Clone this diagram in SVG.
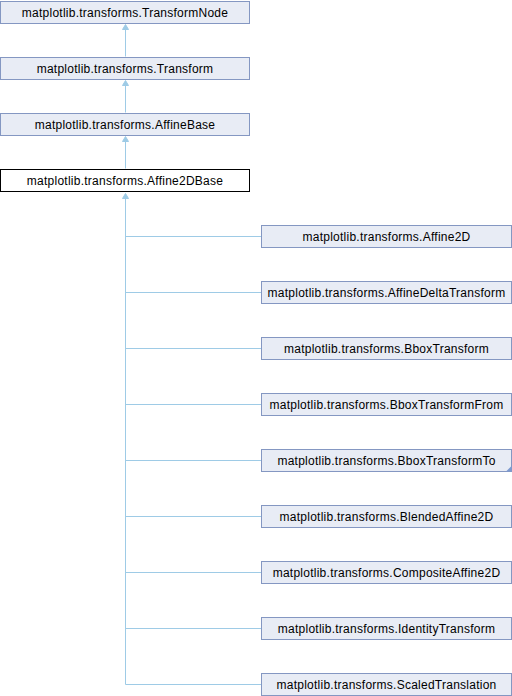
<svg xmlns="http://www.w3.org/2000/svg" width="512" height="696" viewBox="0 0 512 696">
<style>
.n rect{fill:#e8ecf5;stroke:#8497c2;stroke-width:1}
.cur rect{fill:#ffffff;stroke:#000000;stroke-width:1}
text{font-family:"Liberation Sans",Arial,sans-serif;font-size:12px;letter-spacing:0.25px;fill:#000;text-anchor:middle}
.e{stroke:#9ecbe6;stroke-width:1;fill:none}
.ah{fill:#9ecbe6;stroke:#9ecbe6;stroke-width:1}
</style>
<rect width="512" height="696" fill="#ffffff"/>
<g id="connectors">
<line class="e" x1="125.5" y1="28" x2="125.5" y2="56.5"/>
<polygon class="ah" points="125.5,24.5 122.5,29.5 128.5,29.5"/>
<line class="e" x1="125.5" y1="84" x2="125.5" y2="112.5"/>
<polygon class="ah" points="125.5,80.5 122.5,85.5 128.5,85.5"/>
<line class="e" x1="125.5" y1="140" x2="125.5" y2="168.5"/>
<polygon class="ah" points="125.5,136.5 122.5,141.5 128.5,141.5"/>
<polygon class="ah" points="125.5,193.5 122.5,198.5 128.5,198.5"/>
<path class="e" d="M125.5,197 V684.5 M125.5,236.5 H261 M125.5,292.5 H261 M125.5,348.5 H261 M125.5,404.5 H261 M125.5,460.5 H261 M125.5,516.5 H261 M125.5,572.5 H261 M125.5,628.5 H261 M125.5,684.5 H261"/>
</g>
<g id="TransformNode" class="n"><rect x="0.5" y="1.5" width="249" height="22"/><text x="125" y="16.5">matplotlib.transforms.TransformNode</text></g>
<g id="Transform" class="n"><rect x="0.5" y="57.5" width="249" height="22"/><text x="125" y="72.5">matplotlib.transforms.Transform</text></g>
<g id="AffineBase" class="n"><rect x="0.5" y="113.5" width="249" height="22"/><text x="125" y="128.5">matplotlib.transforms.AffineBase</text></g>
<g id="Affine2DBase" class="cur"><rect x="0.5" y="169.5" width="249" height="22"/><text x="125" y="184.5">matplotlib.transforms.Affine2DBase</text></g>
<g id="Affine2D" class="n"><rect x="261.5" y="225.5" width="250" height="22"/><text x="386.5" y="240.5">matplotlib.transforms.Affine2D</text></g>
<g id="AffineDeltaTransform" class="n"><rect x="261.5" y="281.5" width="250" height="22"/><text x="386.5" y="296.5">matplotlib.transforms.AffineDeltaTransform</text></g>
<g id="BboxTransform" class="n"><rect x="261.5" y="337.5" width="250" height="22"/><text x="386.5" y="352.5">matplotlib.transforms.BboxTransform</text></g>
<g id="BboxTransformFrom" class="n"><rect x="261.5" y="393.5" width="250" height="22"/><text x="386.5" y="408.5">matplotlib.transforms.BboxTransformFrom</text></g>
<g id="BboxTransformTo" class="n"><rect x="261.5" y="449.5" width="250" height="22"/><text x="386.5" y="464.5">matplotlib.transforms.BboxTransformTo</text><polygon points="511.5,466 511.5,471.5 506,471.5" fill="#7d9ad0"/></g>
<g id="BlendedAffine2D" class="n"><rect x="261.5" y="505.5" width="250" height="22"/><text x="386.5" y="520.5">matplotlib.transforms.BlendedAffine2D</text></g>
<g id="CompositeAffine2D" class="n"><rect x="261.5" y="561.5" width="250" height="22"/><text x="386.5" y="576.5">matplotlib.transforms.CompositeAffine2D</text></g>
<g id="IdentityTransform" class="n"><rect x="261.5" y="617.5" width="250" height="22"/><text x="386.5" y="632.5">matplotlib.transforms.IdentityTransform</text></g>
<g id="ScaledTranslation" class="n"><rect x="261.5" y="673.5" width="250" height="22"/><text x="386.5" y="688.5">matplotlib.transforms.ScaledTranslation</text></g>
</svg>
